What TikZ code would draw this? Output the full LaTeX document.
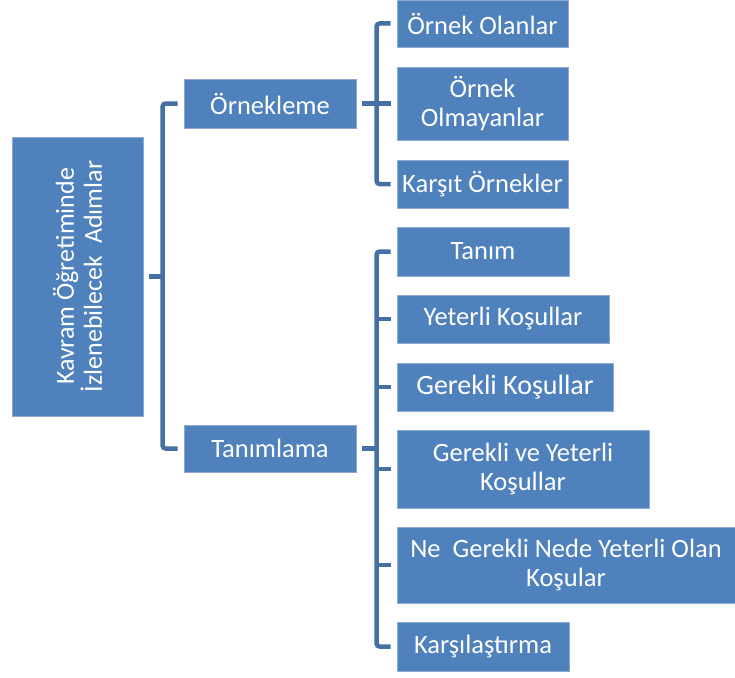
\documentclass[tikz,border=0pt]{standalone}
\usepackage{fontspec}
\setmainfont{Carlito}
\usetikzlibrary{calc}
\definecolor{boxfill}{RGB}{79,129,189}
\definecolor{boxedge}{RGB}{140,170,210}
\definecolor{linkcol}{RGB}{68,112,163}
\tikzset{
  box/.style={rectangle, fill=boxfill, draw=boxedge, line width=0.8pt,
    text=white, align=center, inner sep=0pt,
    font=\fontsize{26.5}{29}\selectfont},
  conn/.style={draw=linkcol, line width=4.5pt, rounded corners=3pt}
}
\begin{document}
\begin{tikzpicture}[x=1pt,y=-1pt]
\useasboundingbox (0,0) rectangle (735,677);

% root box with vertical title
\node[box, minimum width=131, minimum height=279] (root) at (77.5,276.5) {};
\node[text=white, align=center, rotate=90, inner sep=0pt,
      font=\fontsize{26}{28}\selectfont] (roottxt) at (root.center)
      {Kavram Öğretiminde\\İzlenebilecek~~Adımlar};

% second level
\node[box, minimum width=172, minimum height=49] (ornk) at (270,103.5) {Örnekleme};
\node[box, minimum width=172, minimum height=47] (tanm) at (270,448.5) {Tanımlama};

% examples branch
\node[box, minimum width=171, minimum height=47] (o1) at (482.5,23.5) {Örnek Olanlar};
\node[box, minimum width=171, minimum height=73] (o2) at (482.5,103.5) {Örnek\\Olmayanlar};
\node[box, minimum width=171, minimum height=48] (o3) at (482.5,184) {Karşıt Örnekler};

% definition branch
\node[box, minimum width=172, minimum height=49] (t1) at (483,251.5) {Tanım};
\node[box, minimum width=212, minimum height=48] (t2) at (503,319) {Yeterli Koşullar};
\node[box, minimum width=216, minimum height=48, font=\fontsize{28}{30}\selectfont] (t3) at (505,387) {Gerekli Koşullar};
\node[box, minimum width=252, minimum height=78] (t4) at (523,469) {Gerekli ve Yeterli\\Koşullar};
\node[box, minimum width=338, minimum height=76] (t5) at (566,565) {Ne~~Gerekli Nede Yeterli Olan\\Koşular};
\node[box, minimum width=172, minimum height=49] (t6) at (483,646.5) {Karşılaştırma};

% root bracket
\draw[conn] ($(ornk.west)+(-6,0)$) -| ($(tanm.west)+(-21,0)$) -- ($(tanm.west)+(-6,0)$);
\draw[conn] ($(root.east)+(6,0)$) -- ($(root.east)+(20,0)$);

% examples bracket
\draw[conn] ($(o1.west)+(-6,0)$) -| ($(o3.west)+(-20,0)$) -- ($(o3.west)+(-6,0)$);
\draw[conn] ($(ornk.east)+(6,0)$) -- ($(o2.west)+(-6,0)$);

% definition bracket
\draw[conn] ($(t1.west)+(-6,0)$) -| ($(t6.west)+(-20,0)$) -- ($(t6.west)+(-6,0)$);
\draw[conn] ($(tanm.east)+(6,0)$) -- ($(tanm.east)+(21,0)$);
\foreach \n in {t2,t3,t4,t5}
  \draw[conn] ($(\n.west)+(-20,0)$) -- ($(\n.west)+(-6,0)$);
\end{tikzpicture}
\end{document}
